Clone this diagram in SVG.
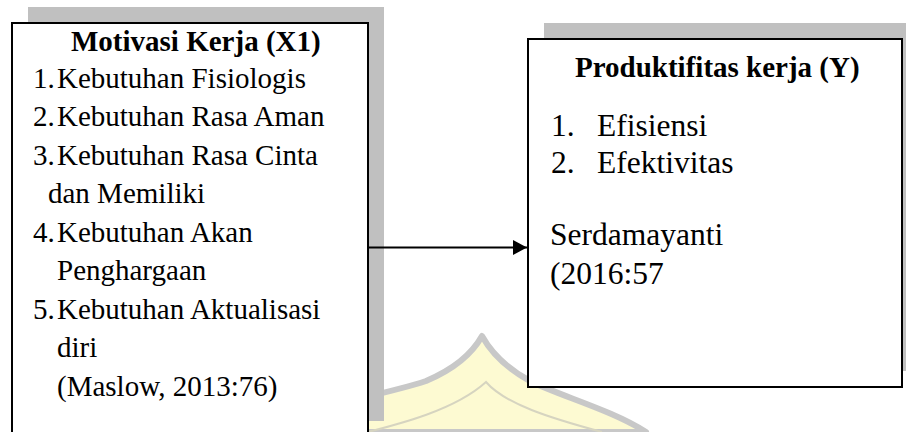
<svg xmlns="http://www.w3.org/2000/svg" width="906" height="432" viewBox="0 0 906 432">
  <defs>
    <style>
      .shadow { fill: #c0c0c0; stroke: none; }
      .box { fill: #ffffff; stroke: #000000; stroke-width: 2; }
      .t { font-family: "Liberation Serif", "Times New Roman", serif; fill: #000000; }
      .title { font-size: 29px; font-weight: bold; }
      .lb { font-size: 29px; }
      .rb { font-size: 31.5px; }
      .conn { stroke: #000000; stroke-width: 2; fill: none; }
    </style>
    <marker id="arrow" markerWidth="14" markerHeight="15" refX="14" refY="7.5" orient="auto" markerUnits="userSpaceOnUse">
      <path d="M0,0 L14,7.5 L0,15 Z" fill="#000000"/>
    </marker>
  </defs>

  <g id="watermark">
    <path d="M300,432 L300,414 C330,404 390,393 426,381 C452,370 472,354 482,336 C492,354 508,369 530,381 C560,396 612,410 646,432 Z" fill="#fdfad2" stroke="#c8c8c8" stroke-width="6" stroke-linejoin="round"/>
    <path d="M360,434 C400,424 455,410 486,382 C505,404 550,418 602,432" fill="none" stroke="#d6d4c0" stroke-width="2"/>
  </g>

  <g id="node-motivasi">
    <rect class="shadow" x="28" y="7" width="356" height="414"/>
    <rect class="box" x="12" y="23" width="356" height="414"/>
    <text class="t title" x="71" y="51">Motivasi Kerja (X1)</text>
    <text class="t lb" x="33" y="87.5">1.</text>
    <text class="t lb" x="57" y="87.5">Kebutuhan Fisiologis</text>
    <text class="t lb" x="33" y="126">2.</text>
    <text class="t lb" x="57" y="126">Kebutuhan Rasa Aman</text>
    <text class="t lb" x="33" y="164.5">3.</text>
    <text class="t lb" x="57" y="164.5">Kebutuhan Rasa Cinta</text>
    <text class="t lb" x="48" y="203">dan Memiliki</text>
    <text class="t lb" x="33" y="241.5">4.</text>
    <text class="t lb" x="57" y="241.5">Kebutuhan Akan</text>
    <text class="t lb" x="57" y="280">Penghargaan</text>
    <text class="t lb" x="33" y="318.5">5.</text>
    <text class="t lb" x="57" y="318.5">Kebutuhan Aktualisasi</text>
    <text class="t lb" x="57" y="357">diri</text>
    <text class="t lb" x="57" y="395.5">(Maslow, 2013:76)</text>
  </g>

  <g id="node-produktifitas">
    <rect class="shadow" x="544" y="23" width="374" height="348"/>
    <rect class="box" x="528" y="39" width="374" height="348"/>
    <text class="t title" x="575" y="77">Produktifitas kerja (Y)</text>
    <text class="t rb" x="551" y="136">1.</text>
    <text class="t rb" x="597" y="136">Efisiensi</text>
    <text class="t rb" x="551" y="173">2.</text>
    <text class="t rb" x="597" y="173">Efektivitas</text>
    <text class="t rb" x="550" y="245">Serdamayanti</text>
    <text class="t rb" x="550" y="284">(2016:57</text>
  </g>

  <g id="connectors">
    <line class="conn" x1="369" y1="247.5" x2="527" y2="247.5" marker-end="url(#arrow)"/>
  </g>
</svg>
